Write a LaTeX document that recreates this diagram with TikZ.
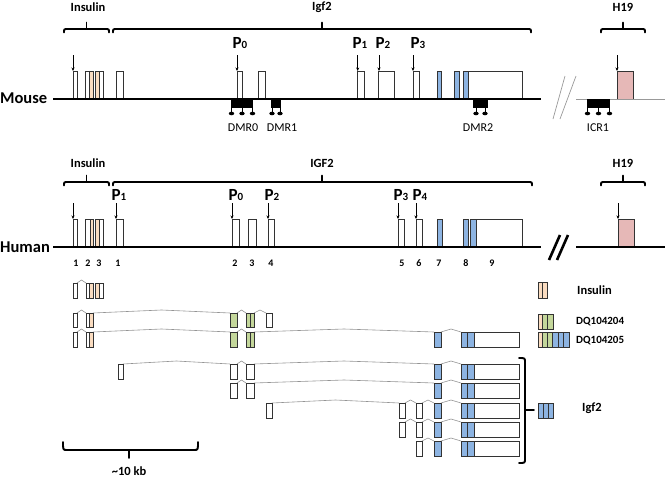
\documentclass[tikz,border=0pt]{standalone}
\usepackage{fontspec}
\setmainfont{Carlito}
\usetikzlibrary{arrows.meta}
\definecolor{ins}{RGB}{250,220,192}
\definecolor{grn}{RGB}{196,215,155}
\definecolor{blu}{RGB}{141,180,226}
\definecolor{pnk}{RGB}{230,184,183}
\newcommand\exW[2]{\draw[exon,fill=white] (#1,\ya) rectangle (#2,\yb);}
\newcommand\exC[3]{\draw[exon,fill=#3] (#1,\ya) rectangle (#2,\yb);}
\newcommand\exS[2]{\draw[splice] (#1,\ya) -- ({(#1+#2)/2},{\ya-3}) -- (#2,\ya);}
\newcommand\exP[4]{\fill[ins] (#3,\ya) rectangle (#4,\yb);
  \draw[exon] (#1,\ya) rectangle (#2,\yb);
  \draw[exon] (#3,\ya) -- (#3,\yb); \draw[exon] (#4,\ya) -- (#4,\yb);}
\newcommand\igfB{\exC{434}{441}{blu}\exS{441}{461}\exC{461}{467}{blu}\exC{467.5}{474}{blu}\exW{474}{519}}
\newcommand\lolli[1]{\draw[line width=0.9pt] (#1,107) -- (#1,112);
  \fill (#1,113.5) ellipse [x radius=2.7pt, y radius=1.8pt];}
\newcommand\psub[1]{{\fontsize{11}{11}\selectfont #1}}
\newcommand\topbrace[4]{% x1 x2 xc yh
  \draw[brc] (#1,{#4+3.5}) .. controls (#1,#4) .. ({#1+4},#4) -- ({#2-4},#4) .. controls (#2,#4) .. (#2,{#4+3.5});
  \draw[brc] (#3,#4) -- (#3,{#4-6.5});}
\begin{document}
\begin{tikzpicture}[x=1pt,y=-1pt,
  exon/.style={draw=black!80, line width=0.7pt},
  splice/.style={draw=black!42, line width=0.6pt},
  genome/.style={line width=2.4pt},
  brc/.style={line width=1.9pt, line cap=round, line join=round},
  lbl/.style={font=\fontsize{12.5}{12.5}\selectfont\bfseries, inner sep=0pt},
  species/.style={font=\fontsize{16.5}{16.5}\selectfont\bfseries, inner sep=0pt, anchor=west},
  plbl/.style={font=\fontsize{17}{17}\selectfont\bfseries, inner sep=0pt},
  dmr/.style={font=\fontsize{12}{12}\selectfont, inner sep=0pt},
  num/.style={font=\fontsize{10}{10}\selectfont\bfseries, inner sep=0pt},
  leg/.style={font=\fontsize{12.5}{12.5}\selectfont\bfseries, inner sep=0pt, anchor=west},
  legs/.style={font=\fontsize{11}{11}\selectfont\bfseries, inner sep=0pt, anchor=west},
  parrow/.style={-{Stealth[length=3.5pt,width=3pt]}, line width=0.6pt}
]
\useasboundingbox (0,0) rectangle (665,477);

% ================= MOUSE =================
\node[lbl] (mins) at (88,7) {Insulin};
\node[lbl] (migf) at (322,7) {Igf2};
\node[lbl] (mh19) at (623,7) {H19};
\topbrace{64}{109}{86.5}{29}
\topbrace{113}{531}{322}{29}
\topbrace{601}{645}{623}{29}
\node[species] (mouse) at (0,98) {Mouse};

\def\ya{71}\def\yb{99}
\exW{73}{77}
\exP{85}{93}{89.3}{93}
\exP{95}{103.3}{95}{99.3}
\exW{116}{123}
\exW{237}{242}
\exW{258}{265}
\exW{357.7}{364.3}
\exW{378}{394}
\exW{413}{419}
\exC{437}{441}{blu}
\exC{454}{459}{blu}
\exC{463}{468}{blu}
\exW{468}{522}
\exC{617}{633}{pnk}

\foreach \x in {73,237,357.7,379,413,617} \draw[parrow] (\x,55) -- (\x,71);
\node[plbl] (mp0) at (240,43) {P\psub{0}};
\node[plbl] (mp1) at (360,43) {P\psub{1}};
\node[plbl] (mp2) at (383,43) {P\psub{2}};
\node[plbl] (mp3) at (418,43) {P\psub{3}};

\draw[genome] (53,99) -- (541,99);
\draw[black!40, line width=0.8pt] (576,99) -- (665,99);
\draw[black!40, line width=0.7pt] (553,119) -- (565,76);
\draw[black!40, line width=0.7pt] (560,119) -- (576,76);

% DMRs
\fill (231,99) rectangle (253,108);
\lolli{231.5}\lolli{242}\lolli{252.5}
\fill (271,99) rectangle (281,108);
\lolli{272}\lolli{280}
\fill (473,99) rectangle (488,108);
\lolli{476}\lolli{485}
\fill (587,99) rectangle (610,108);
\lolli{587.5}\lolli{598.5}\lolli{609.5}
\node[dmr] (dmr0) at (243,128) {DMR0};
\node[dmr] (dmr1) at (282,128) {DMR1};
\node[dmr] (dmr2) at (478,128) {DMR2};
\node[dmr] (icr1) at (598,128) {ICR1};

% ================= HUMAN =================
\node[lbl] (hins) at (88,163) {Insulin};
\node[lbl] (higf) at (322,163) {IGF2};
\node[lbl] (hh19) at (623,163) {H19};
\topbrace{64}{109}{86.5}{182}
\topbrace{113}{532}{322}{182}
\topbrace{601}{645}{623}{182}
\node[species] (human) at (0,247) {Human};

\def\ya{219}\def\yb{247}
\exW{73}{77}
\exP{85.7}{93.7}{90}{93.7}
\exP{95.3}{103.7}{95.3}{99}
\exW{116}{123}
\exW{232}{239}
\exW{248}{256}
\exW{268}{274}
\exW{398}{404}
\exW{416}{422}
\exC{437}{442}{blu}
\exC{463}{468}{blu}
\exC{470}{476}{blu}
\exW{476}{522}
\exC{618}{634}{pnk}

\foreach \x in {73,116,232,268,398,416,618} \draw[parrow] (\x,203) -- (\x,219);
\node[plbl] (hp1) at (119,195) {P\psub{1}};
\node[plbl] (hp0) at (236,195) {P\psub{0}};
\node[plbl] (hp2) at (272,195) {P\psub{2}};
\node[plbl] (hp3) at (401,195) {P\psub{3}};
\node[plbl] (hp4) at (420,195) {P\psub{4}};

\draw[genome] (53,247) -- (541,247);
\draw[genome] (576,247) -- (665,247);
\draw[line width=2.6pt] (549,260) -- (560,235);
\draw[line width=2.6pt] (557,260) -- (568,235);

\node[num] (n1) at (76,263) {1};
\node[num] (n2) at (88,263) {2};
\node[num] (n3) at (99,263) {3};
\node[num] (g1) at (118,263) {1};
\node[num] (g2) at (235,263) {2};
\node[num] (g3) at (252,263) {3};
\node[num] (g4) at (271,263) {4};
\node[num] (g5) at (402,263) {5};
\node[num] (g6) at (419,263) {6};
\node[num] (g7) at (439,263) {7};
\node[num] (g8) at (466,263) {8};
\node[num] (g9) at (492,263) {9};

% ================= TRANSCRIPTS =================
% row 1 insulin
\def\ya{283}\def\yb{298}
\exS{77}{86}
\exW{73}{77}
\exP{86}{93.7}{89.3}{93.7}
\exP{95.3}{103.3}{95.3}{99.3}
% row 2 DQ104204
\def\ya{313}\def\yb{327}
\exS{77}{86}\exS{93}{230}\exS{237}{246}\exS{254}{266}
\exW{73}{77}
\exP{86}{93}{89.5}{93}
\exC{230}{237}{grn}
\exC{246}{254}{grn}\draw[exon] (250,\ya) -- (250,\yb);
\exW{266}{272}
% row 3 DQ104205
\def\ya{332}\def\yb{347}
\exS{77}{86}\exS{93}{230}\exS{237}{246}\exS{254}{434}
\exW{73}{77}
\exP{86}{93}{89.5}{93}
\exC{230}{237}{grn}
\exC{246}{254}{grn}\draw[exon] (250,\ya) -- (250,\yb);
\igfB
% row 4
\def\ya{364}\def\yb{379}
\exS{123}{230}\exS{237}{246}\exS{254}{434}
\exW{118}{123}\exW{230}{237}\exW{246}{254}
\igfB
% row 5
\def\ya{383}\def\yb{398}
\exS{237}{246}\exS{254}{434}
\exW{230}{237}\exW{246}{254}
\igfB
% row 6
\def\ya{403}\def\yb{418}
\exS{272}{399}\exS{405}{416}\exS{422}{434}
\exW{266}{272}\exW{399}{405}\exW{416}{422}
\igfB
% row 7
\def\ya{422}\def\yb{437}
\exS{405}{416}\exS{422}{434}
\exW{399}{405}\exW{416}{422}
\igfB
% row 8
\def\ya{441}\def\yb{456}
\exS{422}{434}
\exW{416}{422}
\igfB

% right brace
\draw[brc] (519,358) .. controls (525,358) .. (525,362) -- (525,459) .. controls (525,463) .. (519,463);
\draw[brc] (525,410) -- (534,410);

% ================= LEGEND =================
\def\ya{282}\def\yb{298}
\exC{538}{542.5}{ins}\exC{542.5}{547}{ins}
\node[leg] (lins) at (577,290) {Insulin};
\def\ya{314}\def\yb{329}
\exC{538}{542.5}{ins}\exC{542.5}{547.5}{grn}\exC{547.5}{553}{grn}
\node[legs] (l204) at (576,322) {DQ104204};
\def\ya{332}\def\yb{347}
\exC{538}{542.5}{ins}\exC{542.5}{547.5}{grn}\exC{547.5}{552.5}{grn}
\exC{552.5}{558}{blu}\exC{558}{563.5}{blu}\exC{563.5}{569}{blu}
\node[legs] (l205) at (576,341) {DQ104205};
\def\ya{403}\def\yb{418}
\exC{538}{543}{blu}\exC{543}{548}{blu}\exC{548}{553}{blu}
\node[leg] (ligf) at (582,408) {Igf2};

% scale bar
\draw[brc] (63,442) .. controls (63,450) .. (67,450) -- (194,450) .. controls (198,450) .. (198,442);
\draw[brc] (129,450) -- (129,458);
\node[lbl] (kb) at (129,471) {\textasciitilde10 kb};
\end{tikzpicture}
\end{document}
